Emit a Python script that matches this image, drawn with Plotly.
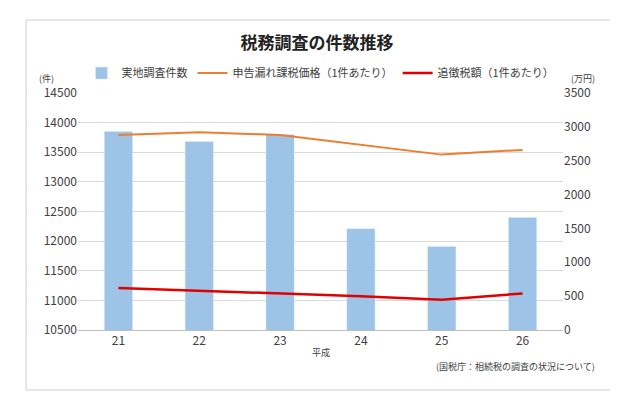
import plotly.graph_objects as go

years = ["21", "22", "23", "24", "25", "26"]
surveys = [13850, 13680, 13800, 12210, 11910, 12400]
undeclared = [2880, 2920, 2880, 2740, 2590, 2660]
additional_tax = [620, 580, 540, 500, 445, 540]

font = "Noto Sans CJK JP"
fig = go.Figure()
fig.add_trace(go.Bar(x=years, y=surveys, name="実地調査件数", marker_color="#9DC3E6", width=0.35))
fig.add_trace(go.Scatter(x=years, y=undeclared, name="申告漏れ課税価格（1件あたり）", mode="lines",
                         line=dict(color="#ED7D31", width=2), yaxis="y2"))
fig.add_trace(go.Scatter(x=years, y=additional_tax, name="追徴税額（1件あたり）", mode="lines",
                         line=dict(color="#E00000", width=2.5), yaxis="y2"))
fig.update_layout(
    width=618, height=412, paper_bgcolor="white", plot_bgcolor="white",
    font=dict(family=font, size=12, color="#404040"),
    margin=dict(l=70, r=63, t=85, b=90),
    title=dict(text="<b>税務調査の件数推移</b>", x=0.5, y=0.915, yanchor="middle", xanchor="center",
               font=dict(size=17, color="#222")),
    legend=dict(orientation="h", x=0.5, xanchor="center", y=1.084, yanchor="middle", font=dict(size=11),
                bgcolor="rgba(0,0,0,0)"),
    xaxis=dict(showline=True, linecolor="#BFBFBF", ticks="", tickfont=dict(size=12)),
    yaxis=dict(range=[10500, 14500], dtick=500, tickformat="d", gridcolor="#D9D9D9",
               tickfont=dict(size=12), zeroline=False),
    yaxis2=dict(range=[0, 3500], dtick=500, tickformat="d", overlaying="y", side="right", showgrid=False,
                tickfont=dict(size=12), zeroline=False),
    shapes=[dict(type="rect", xref="paper", yref="paper", x0=-0.107, x1=1.103, y0=-0.253, y1=1.308,
                 line=dict(color="#D0D0D0", width=1))],
    annotations=[
        dict(text="(件)", xref="paper", yref="paper", x=-0.085, y=1.095, showarrow=False, font=dict(size=9)),
        dict(text="(万円)", xref="paper", yref="paper", x=1.07, y=1.095, showarrow=False, font=dict(size=9)),
        dict(text="平成", xref="paper", yref="paper", x=0.5, y=-0.13, showarrow=False, font=dict(size=9)),
        dict(text="(国税庁：相続税の調査の状況について)", xref="paper", yref="paper", x=1.07, y=-0.19,
             xanchor="right", showarrow=False, font=dict(size=9)),
    ],
)
fig.write_html("out.html")
